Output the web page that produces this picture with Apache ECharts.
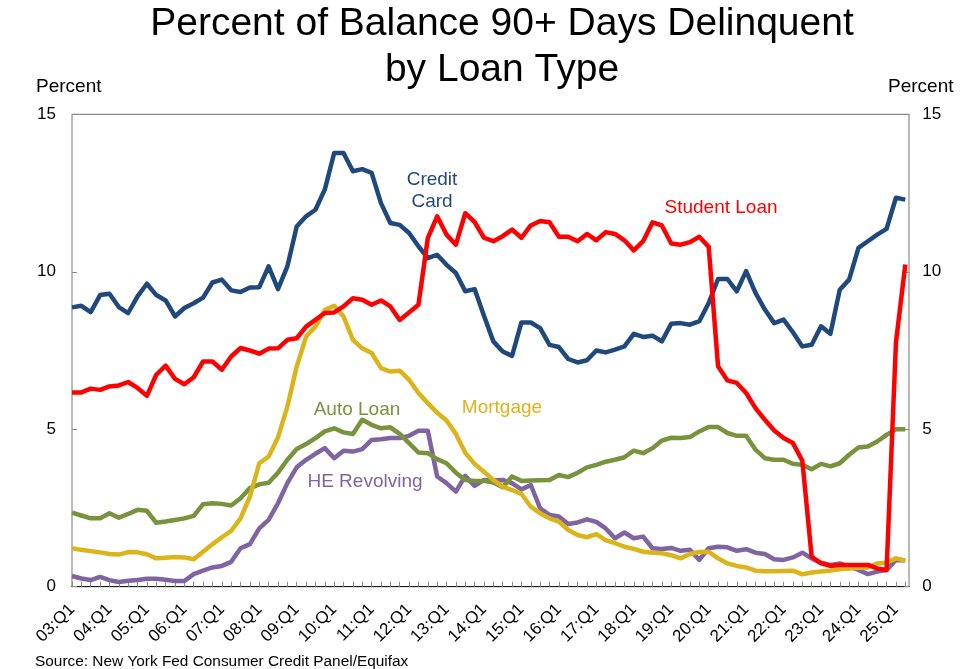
<!DOCTYPE html>
<html>
<head>
<meta charset="utf-8">
<title>Percent of Balance 90+ Days Delinquent by Loan Type</title>
<script src="https://cdn.jsdelivr.net/npm/echarts@6/dist/echarts.min.js"></script>
<style>
  html, body { margin: 0; padding: 0; background: #fff; }
  #chart { width: 960px; height: 669px; }
</style>
</head>
<body>
<div id="chart"></div>
<script>
// quarters 03:Q1 .. 25:Q2
var years = ['03', '04', '05', '06', '07', '08', '09', '10', '11', '12', '13', '14',
  '15', '16', '17', '18', '19', '20', '21', '22', '23', '24', '25'];
var quarters = ['Q1', 'Q2', 'Q3', 'Q4'];
var lastQuarter = '25:Q2';

var creditCard = [
  8.87, 8.92, 8.72, 9.26, 9.30, 8.88, 8.69, 9.22, 9.62, 9.26,
  9.09, 8.58, 8.85, 9.00, 9.18, 9.66, 9.75, 9.41, 9.36, 9.50,
  9.51, 10.17, 9.45, 10.17, 11.44, 11.76, 11.97, 12.61, 13.77, 13.77,
  13.19, 13.26, 13.14, 12.18, 11.55, 11.49, 11.23, 10.81, 10.43, 10.54,
  10.22, 9.96, 9.38, 9.45, 8.60, 7.79, 7.47, 7.33, 8.39, 8.39,
  8.21, 7.68, 7.61, 7.23, 7.12, 7.19, 7.50, 7.44, 7.53, 7.63,
  8.03, 7.93, 7.97, 7.79, 8.35, 8.37, 8.32, 8.43, 9.01, 9.77,
  9.77, 9.38, 10.02, 9.33, 8.80, 8.37, 8.48, 8.08, 7.63, 7.68,
  8.27, 8.03, 9.43, 9.75, 10.76, 10.97, 11.18, 11.36, 12.35, 12.29
];
var studentLoan = [
  6.17, 6.17, 6.29, 6.25, 6.36, 6.39, 6.50, 6.31, 6.06, 6.73,
  7.02, 6.60, 6.43, 6.65, 7.15, 7.15, 6.89, 7.31, 7.58, 7.50,
  7.40, 7.56, 7.57, 7.84, 7.89, 8.26, 8.47, 8.69, 8.71, 8.90,
  9.16, 9.11, 8.95, 9.09, 8.90, 8.47, 8.71, 8.95, 11.07, 11.76,
  11.18, 10.86, 11.86, 11.58, 11.08, 10.97, 11.13, 11.34, 11.08, 11.47,
  11.61, 11.57, 11.11, 11.11, 10.97, 11.20, 11.00, 11.26, 11.20, 11.00,
  10.68, 10.97, 11.57, 11.47, 10.90, 10.86, 10.94, 11.11, 10.79, 7.00,
  6.55, 6.47, 6.15, 5.67, 5.30, 4.96, 4.72, 4.56, 4.00, 0.95,
  0.74, 0.66, 0.69, 0.69, 0.69, 0.69, 0.58, 0.53, 7.75, 10.23
];
var autoLoan = [
  2.35, 2.26, 2.17, 2.17, 2.33, 2.19, 2.31, 2.44, 2.41, 2.03,
  2.07, 2.12, 2.17, 2.25, 2.62, 2.65, 2.63, 2.58, 2.81, 3.13,
  3.25, 3.30, 3.62, 4.03, 4.37, 4.53, 4.72, 4.93, 5.03, 4.90,
  4.85, 5.30, 5.14, 5.03, 5.06, 4.85, 4.56, 4.26, 4.24, 4.05,
  3.92, 3.62, 3.39, 3.36, 3.36, 3.31, 3.16, 3.50, 3.36, 3.37,
  3.38, 3.39, 3.55, 3.48, 3.62, 3.79, 3.87, 3.97, 4.03, 4.11,
  4.32, 4.24, 4.40, 4.64, 4.73, 4.72, 4.75, 4.93, 5.07, 5.07,
  4.88, 4.79, 4.79, 4.35, 4.08, 4.03, 4.03, 3.90, 3.87, 3.73,
  3.90, 3.82, 3.92, 4.19, 4.42, 4.45, 4.61, 4.82, 5.00, 5.00
];
var mortgage = [
  1.22, 1.17, 1.13, 1.09, 1.04, 1.02, 1.10, 1.09, 1.03, 0.90,
  0.92, 0.94, 0.93, 0.87, 1.11, 1.35, 1.57, 1.77, 2.17, 2.86,
  3.92, 4.13, 4.74, 5.72, 6.99, 7.94, 8.26, 8.79, 8.92, 8.58,
  7.84, 7.57, 7.42, 6.94, 6.83, 6.86, 6.57, 6.15, 5.83, 5.52,
  5.28, 4.85, 4.25, 3.90, 3.65, 3.39, 3.18, 3.07, 2.95, 2.54,
  2.33, 2.17, 2.07, 1.80, 1.64, 1.57, 1.67, 1.48, 1.38, 1.27,
  1.20, 1.11, 1.08, 1.06, 1.00, 0.90, 1.04, 1.10, 1.11, 0.90,
  0.74, 0.66, 0.61, 0.51, 0.49, 0.49, 0.50, 0.51, 0.39, 0.45,
  0.48, 0.51, 0.55, 0.58, 0.60, 0.61, 0.74, 0.76, 0.90, 0.83
];
var heRevolving = [
  0.34, 0.26, 0.21, 0.31, 0.21, 0.15, 0.19, 0.21, 0.25, 0.25,
  0.22, 0.18, 0.18, 0.40, 0.51, 0.61, 0.66, 0.79, 1.22, 1.35,
  1.85, 2.12, 2.65, 3.29, 3.79, 4.03, 4.22, 4.40, 4.08, 4.32,
  4.29, 4.37, 4.66, 4.68, 4.72, 4.72, 4.79, 4.95, 4.95, 3.50,
  3.29, 3.02, 3.52, 3.20, 3.39, 3.37, 3.39, 3.29, 3.09, 3.23,
  2.49, 2.28, 2.23, 1.99, 2.04, 2.14, 2.06, 1.85, 1.54, 1.72,
  1.54, 1.59, 1.22, 1.20, 1.23, 1.14, 1.17, 0.85, 1.22, 1.27,
  1.25, 1.14, 1.19, 1.08, 1.04, 0.87, 0.85, 0.93, 1.08, 0.90,
  0.76, 0.69, 0.74, 0.64, 0.53, 0.40, 0.48, 0.53, 0.85, 0.83
];

var yTicks = [0, 5, 10, 15];

var categories = [];
years.forEach(function (y) {
  quarters.forEach(function (q) {
    if (categories.length && categories[categories.length - 1] === lastQuarter) return;
    categories.push(y + ':' + q);
  });
});

var FONT = '"Liberation Sans", Arial, sans-serif';
var colors = {
  credit: '#1f497d',
  student: '#ff0000',
  auto: '#77933c',
  mortgage: '#dbb41a',
  he: '#8064a2'
};

var myChart = echarts.init(document.getElementById('chart'));

function lineSeries(name, data, color) {
  return {
    name: name,
    type: 'line',
    data: data,
    symbol: 'none',
    showSymbol: false,
    lineStyle: { color: color, width: 4.5, join: 'round' },
    itemStyle: { color: color },
    animation: false
  };
}

// series name written inside the plot
function note(text, x, y, color) {
  return {
    type: 'text',
    x: x, y: y,
    style: {
      text: text, fill: color, font: '19px ' + FONT,
      textAlign: 'center', textVerticalAlign: 'middle',
      align: 'center', verticalAlign: 'middle', lineHeight: 22
    }
  };
}

var option = {
  backgroundColor: '#fff',
  animation: false,
  title: {
    text: 'Percent of Balance 90+ Days Delinquent\nby Loan Type',
    left: 497,
    top: -4,
    textAlign: 'center',
    textStyle: {
      fontFamily: FONT, fontSize: 39, fontWeight: 'normal',
      color: '#000', lineHeight: 46
    }
  },
  grid: [
    { left: 72, right: 54.7, top: 114.3, bottom: 82.3 },
    // frame round the plot area
    { left: 72, right: 51, top: 114.3, bottom: 82.3, show: true,
      borderColor: '#8c8c8c', borderWidth: 1.2, backgroundColor: 'transparent' }
  ],
  xAxis: [
    {
      type: 'category',
      gridIndex: 0,
      data: categories,
      boundaryGap: false,
      axisLine: { show: false },
      axisTick: { show: true, inside: true, length: 5, interval: 0,
        lineStyle: { color: '#8c8c8c', width: 1 } },
      axisLabel: {
        interval: 3, rotate: 45, margin: 20,
        fontFamily: FONT, fontSize: 17, color: '#000'
      },
      splitLine: { show: false }
    },
    {
      type: 'value',
      gridIndex: 1,
      position: 'top',
      axisLine: { show: true, lineStyle: { color: '#1a1a1a', width: 1.2 } },
      axisTick: { show: false },
      axisLabel: { show: false },
      splitLine: { show: false }
    }
  ],
  yAxis: [
    {
      type: 'value', gridIndex: 0, position: 'left',
      min: yTicks[0], max: yTicks[yTicks.length - 1], interval: 5,
      axisLine: { show: false },
      axisTick: { show: true, inside: true, length: 5,
        lineStyle: { color: '#8c8c8c' } },
      axisLabel: { margin: 16, fontFamily: FONT, fontSize: 17, color: '#000' },
      splitLine: { show: false }
    },
    {
      type: 'value', gridIndex: 0, position: 'right', offset: 4,
      min: yTicks[0], max: yTicks[yTicks.length - 1], interval: 5,
      axisLine: { show: false },
      axisTick: { show: true, inside: true, length: 5,
        lineStyle: { color: '#8c8c8c' } },
      axisLabel: { margin: 13, fontFamily: FONT, fontSize: 17, color: '#000' },
      splitLine: { show: false }
    },
    {
      type: 'value', gridIndex: 1, show: false
    }
  ],
  series: [
    lineSeries('HE Revolving', heRevolving, colors.he),
    lineSeries('Auto Loan', autoLoan, colors.auto),
    lineSeries('Credit Card', creditCard, colors.credit),
    lineSeries('Mortgage', mortgage, colors.mortgage),
    lineSeries('Student Loan', studentLoan, colors.student)
  ],
  graphic: [
    { type: 'text', x: 36, y: 87,
      style: { text: 'Percent', fill: '#000', font: '19px ' + FONT,
        textVerticalAlign: 'middle', verticalAlign: 'middle' } },
    { type: 'text', x: 888, y: 87,
      style: { text: 'Percent', fill: '#000', font: '19px ' + FONT,
        textVerticalAlign: 'middle', verticalAlign: 'middle' } },
    { type: 'text', x: 35, y: 662,
      style: { text: 'Source: New York Fed Consumer Credit Panel/Equifax',
        fill: '#000', font: '15.4px ' + FONT,
        textVerticalAlign: 'middle', verticalAlign: 'middle' } },
    note('Credit\nCard', 432, 191, colors.credit),
    note('Student Loan', 721, 208, colors.student),
    note('Auto Loan', 357, 410, colors.auto),
    note('Mortgage', 502, 408, colors.mortgage),
    note('HE Revolving', 365, 482, colors.he)
  ]
};

myChart.setOption(option);
</script>
</body>
</html>
